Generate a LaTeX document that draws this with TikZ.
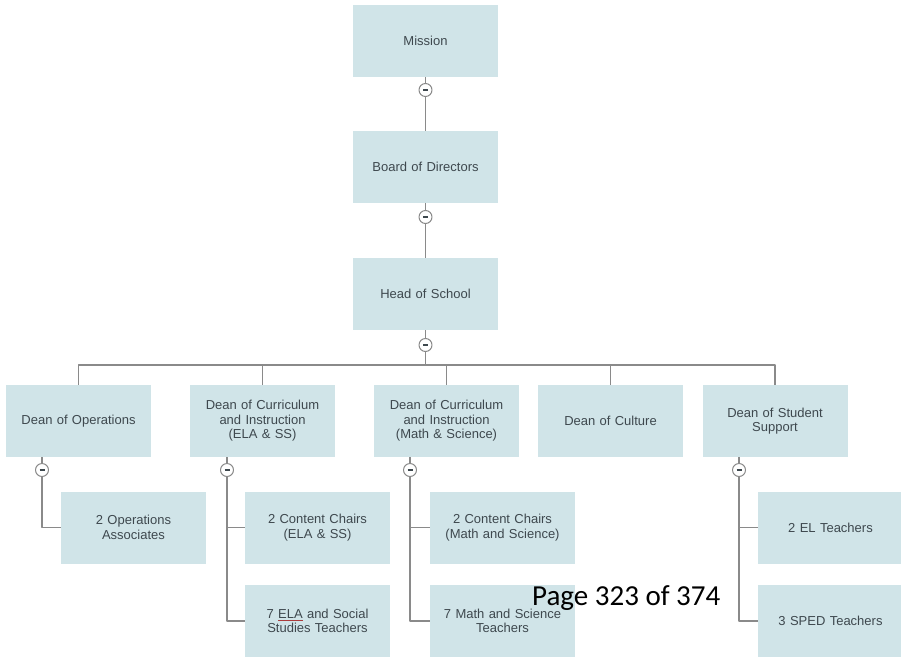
\documentclass[tikz,border=0pt]{standalone}
\usepackage{fontspec}
\setmainfont{Liberation Sans}
\newfontfamily\pagefont{Carlito}
\definecolor{boxfill}{RGB}{208,228,232}
\definecolor{boxtext}{RGB}{62,72,78}
\definecolor{linkgray}{RGB}{138,138,138}
\definecolor{spellred}{RGB}{170,60,60}
\begin{document}
\begin{tikzpicture}[x=1pt,y=-1pt,line join=round,
	box/.style={fill=boxfill,minimum width=145pt,minimum height=72pt,text width=140pt,align=center,inner sep=0pt,text=boxtext,font=\fontsize{13}{14.5}\selectfont},
	link/.style={draw=linkgray,line width=1.3pt},
	toggle/.style={circle,draw=linkgray,fill=white,line width=1pt,minimum size=13pt,inner sep=0pt,
		path picture={\draw[boxtext,line width=1.4pt] ([xshift=-2.5pt]path picture bounding box.center)--([xshift=2.5pt]path picture bounding box.center);}}]
	\useasboundingbox (0,0) rectangle (901,656);
	\node[box] (mission) at (425.5,41) {Mission};
	\node[box] (board) at (425.5,167) {Board of Directors};
	\node[box] (head) at (425.5,294) {Head of School};
	\node[box] (ops) at (78.5,421) {Dean of Operations};
	\node[box] (elass) at (262.5,421) {Dean of Curriculum\\and Instruction\\(ELA \& SS)};
	\node[box] (math) at (446.5,421) {Dean of Curriculum\\and Instruction\\(Math \& Science)};
	\node[box] (culture) at (610.5,421) {Dean of Culture};
	\node[box] (support) at (775,421) {Dean of Student\\Support};
	\node[box] (opsassoc) at (133.5,527.5) {2 Operations\\Associates};
	\node[box] (elachairs) at (317.5,527.5) {2 Content Chairs\\(ELA \& SS)};
	\node[box] (elateach) at (317.5,621) {7 {\color{spellred}\underline{\color{boxtext}ELA}} and Social\\Studies Teachers};
	\node[box] (mathchairs) at (502.5,527.5) {2 Content Chairs\\(Math and Science)};
	\node[box] (mathteach) at (502.5,621) {7 Math and Science\\Teachers};
	\node[box] (el) at (830.5,527.5) {2 EL Teachers};
	\node[box] (sped) at (830.5,621) {3 SPED Teachers};
	\node[toggle] (mission-c) at (425.5,90) {};
	\node[toggle] (board-c) at (425.5,217) {};
	\node[toggle] (head-c) at (425.5,345) {};
	\node[toggle] (ops-c) at (42,470) {};
	\node[toggle] (elass-c) at (227,470) {};
	\node[toggle] (math-c) at (410,470) {};
	\node[toggle] (support-c) at (739,470) {};
	\coordinate (bus) at (425.5,365);
	\foreach \n in {mission,board,head,ops,elass,math,support}
		\draw[link] (\n-c.north) -- (\n-c.north |- \n.south);
	\draw[link] (mission-c.south) -- (board.north);
	\draw[link] (board-c.south) -- (head.north);
	\draw[link] (head-c.south) -- (bus);
	\foreach \n in {ops,elass,math,culture,support}
		\draw[link] (\n.north) |- (bus);
	\draw[link] (ops-c.south) |- (opsassoc.west);
	\draw[link] (elass-c.south) |- (elachairs.west);
	\draw[link] (elass-c.south) |- (elateach.west);
	\draw[link] (math-c.south) |- (mathchairs.west);
	\draw[link] (math-c.south) |- (mathteach.west);
	\draw[link] (support-c.south) |- (el.west);
	\draw[link] (support-c.south) |- (sped.west);
	\node[anchor=base west,inner sep=0pt,font=\pagefont\fontsize{29}{34}\selectfont] (pagenum) at (532,605) {Page 323 of 374};
\end{tikzpicture}
\end{document}
